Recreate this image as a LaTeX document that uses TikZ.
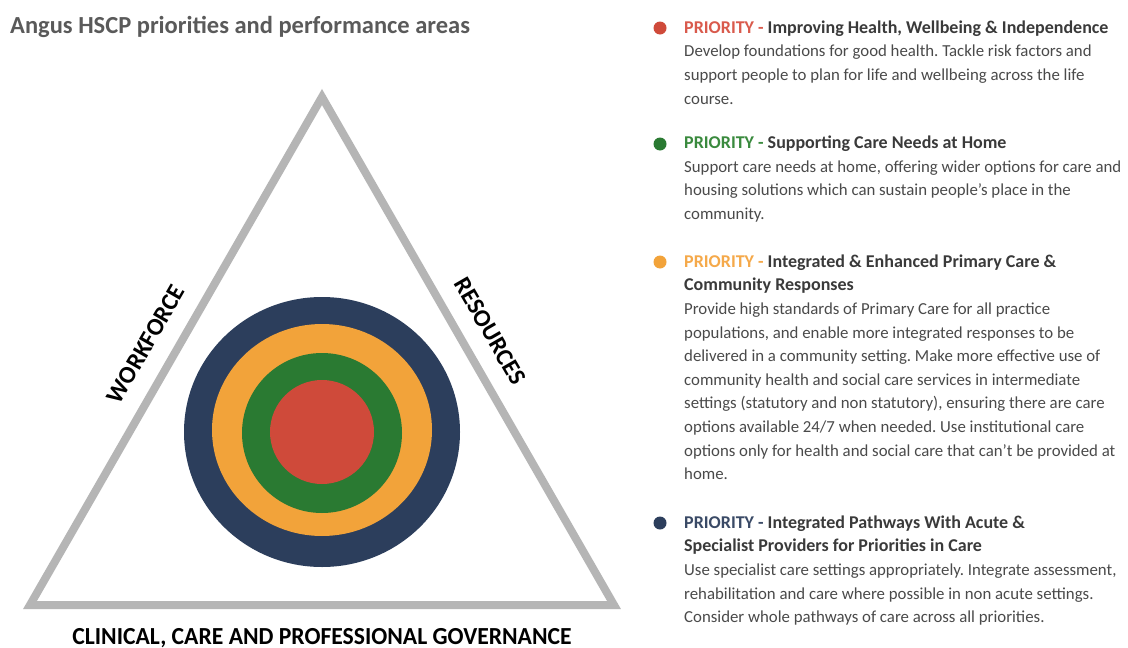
\documentclass[tikz,border=0pt]{standalone}
\usepackage{fontspec}
\setmainfont{Carlito}
\newfontfamily\govfamily[FakeStretch=0.965]{Carlito}
\frenchspacing
\definecolor{navyc}{HTML}{2C3E5C}
\definecolor{orangec}{HTML}{F2A33A}
\definecolor{greenc}{HTML}{2A7A32}
\definecolor{redc}{HTML}{CF4A3A}
\definecolor{redp}{HTML}{D95A4C}
\definecolor{greenp}{HTML}{3A8A3E}
\definecolor{orangep}{HTML}{F5A94A}
\definecolor{navyp}{HTML}{3A4A66}
\definecolor{trigray}{HTML}{B5B5B5}
\definecolor{titlegray}{HTML}{5A5A5A}
\definecolor{headc}{HTML}{3A3A3A}
\definecolor{bodyc}{HTML}{4A4A4A}
\newcommand\bodyfnt{\fontsize{16.8}{23.6}\selectfont}
\newcommand\hd[2]{{\fontsize{18}{23.6}\selectfont\bfseries\textcolor{#1}{PRIORITY -} \textcolor{headc}{#2}}}
\newcommand\hdb[1]{{\fontsize{18}{23.6}\selectfont\bfseries\textcolor{headc}{#1}}}
\newcommand\labfnt{\fontsize{24.5}{28}\selectfont\bfseries}
\begin{document}
\begin{tikzpicture}[x=1pt,y=-1pt,
  tri/.style={draw=trigray,line width=8pt,line join=miter},
  bullet/.style={circle,inner sep=0pt,minimum size=13pt},
  txt/.style={anchor=north west,inner sep=0pt,align=left,font=\bodyfnt,text=bodyc},
  lab/.style={inner sep=0pt,font=\labfnt,text=black}]
\useasboundingbox (0,0) rectangle (1128,648);
\fill[white] (0,0) rectangle (1128,648);
% title
\node[anchor=base west,inner sep=0pt,font=\fontsize{24.5}{28}\selectfont\bfseries,text=titlegray] (title) at (10,33) {Angus HSCP priorities and performance areas};
% triangle
\coordinate (A) at (322,97);
\coordinate (B) at (30,605);
\coordinate (C) at (614,605);
\draw[tri] (A) -- (B) -- (C) -- cycle;
% target
\fill[navyc] (322,432) ellipse [x radius=138, y radius=135];
\fill[orangec] (322,430) ellipse [x radius=110, y radius=106];
\fill[greenc] (322,433) ellipse [x radius=80, y radius=80];
\fill[redc] (322,432) ellipse [x radius=52, y radius=52];
% labels
\node[lab,rotate=60] (wf) at (146,344) {WORKFORCE};
\node[lab,rotate=-60] (rs) at (490,331) {RESOURCES};
\node[lab,anchor=base,font=\govfamily\labfnt] (gov) at (322,644) {CLINICAL, CARE AND PROFESSIONAL GOVERNANCE};
% priorities
\node[bullet,fill=redc] (b1) at (660,28) {};
\node[txt] (t1) at (684,16.5) {\strut\hd{redp}{Improving Health, Wellbeing \& Independence}\\
Develop foundations for good health. Tackle risk factors and\\
support people to plan for life and wellbeing across the life\\
course.};
\node[bullet,fill=greenc] (b2) at (660,144) {};
\node[txt] (t2) at (684,132) {\strut\hd{greenp}{Supporting Care Needs at Home}\\
Support care needs at home, offering wider options for care and\\
housing solutions which can sustain people's place in the\\
community.};
\node[bullet,fill=orangec] (b3) at (660,262) {};
\node[txt] (t3) at (684,250.5) {\strut\hd{orangep}{Integrated \& Enhanced Primary Care \&}\\
\hdb{Community Responses}\\
Provide high standards of Primary Care for all practice\\
populations, and enable more integrated responses to be\\
delivered in a community setting. Make more effective use of\\
community health and social care services in intermediate\\
settings (statutory and non statutory), ensuring there are care\\
options available 24/7 when needed. Use institutional care\\
options only for health and social care that can't be provided at\\
home.};
\node[bullet,fill=navyc] (b4) at (660,523) {};
\node[txt] (t4) at (684,511.5) {\strut\hd{navyp}{Integrated Pathways With Acute \&}\\
\hdb{Specialist Providers for Priorities in Care}\\
Use specialist care settings appropriately. Integrate assessment,\\
rehabilitation and care where possible in non acute settings.\\
Consider whole pathways of care across all priorities.};
\end{tikzpicture}
\end{document}
